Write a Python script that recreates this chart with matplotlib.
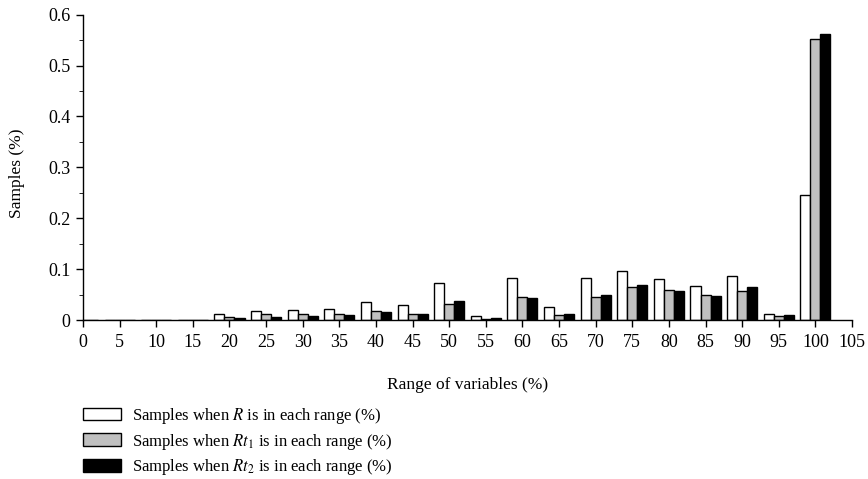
import matplotlib
matplotlib.use("Agg")
import matplotlib.pyplot as plt
import numpy as np
from matplotlib.ticker import MultipleLocator, FuncFormatter
from matplotlib.patches import Patch

ranges = [0, 5, 10, 15, 20, 25, 30, 35, 40, 45, 50, 55, 60, 65, 70, 75, 80, 85, 90, 95, 100]
samples_R = [0, 0, 0.0008, 0.0015, 0.012, 0.0186, 0.0205, 0.023, 0.0368, 0.0297, 0.074, 0.0094,
             0.0838, 0.0258, 0.0838, 0.0975, 0.0806, 0.0669, 0.0877, 0.0127, 0.247]
samples_Rt1 = [0, 0, 0.0008, 0.0015, 0.0068, 0.012, 0.012, 0.012, 0.0192, 0.0133, 0.0329, 0.0035,
               0.0466, 0.0108, 0.046, 0.0661, 0.0603, 0.0499, 0.0583, 0.0094, 0.551]
samples_Rt2 = [0, 0, 0.0008, 0.0018, 0.005, 0.0074, 0.008, 0.0105, 0.016, 0.0127, 0.0382, 0.0055,
               0.0446, 0.0133, 0.0505, 0.0689, 0.0577, 0.0474, 0.0661, 0.0114, 0.561]
labels = [r"Samples when $R$ is in each range (%)",
          r"Samples when $Rt_1$ is in each range (%)",
          r"Samples when $Rt_2$ is in each range (%)"]

plt.rcParams['font.family'] = ['Liberation Serif', 'DejaVu Serif']
plt.rcParams['mathtext.fontset'] = 'stix'

fig = plt.figure(figsize=(8.68, 4.79), dpi=100)
ax = fig.add_axes([0.0956, 0.331, 0.8860, 0.6387])

x = np.array(ranges, dtype=float)
w = 1.37
colors = ['white', '#c0c0c0', 'black']
for i, (vals, c) in enumerate(zip([samples_R, samples_Rt1, samples_Rt2], colors)):
    ax.bar(x + (i - 1) * w, vals, width=w, color=c, edgecolor='black', linewidth=1.0)

ax.set_xlim(0, 105)
ax.set_ylim(0, 0.6)
ax.xaxis.set_major_locator(MultipleLocator(5))
ax.yaxis.set_major_locator(MultipleLocator(0.1))
ax.yaxis.set_minor_locator(MultipleLocator(0.05))
ax.yaxis.set_major_formatter(FuncFormatter(lambda v, p: "0" if abs(v) < 1e-9 else f"{v:.1f}"))
ax.tick_params(axis='both', direction='out', labelsize=13, width=1, color='black')
ax.tick_params(axis='x', length=5, pad=5)
ax.tick_params(axis='y', which='major', length=5, pad=4)
ax.tick_params(axis='y', which='minor', length=3)
for s in ['top', 'right']:
    ax.spines[s].set_visible(False)
for s in ['left', 'bottom']:
    ax.spines[s].set_linewidth(1.0)

ax.set_xlabel("Range of variables (%)", fontsize=12.5, va='center')
ax.xaxis.set_label_coords(0.5, -0.211)
ax.set_ylabel("Samples (%)", fontsize=12.5)
ax.yaxis.set_label_coords(-0.075, 0.48)

handles = [Patch(facecolor=c, edgecolor='black', linewidth=1.0) for c in colors]
fig.legend(handles, labels, loc='upper left', bbox_to_anchor=(0.088, 0.167),
           frameon=False, fontsize=12, handlelength=2.3, handleheight=0.8,
           labelspacing=0.35, handletextpad=0.65, borderaxespad=0)

fig.savefig("out.png", dpi=100)
